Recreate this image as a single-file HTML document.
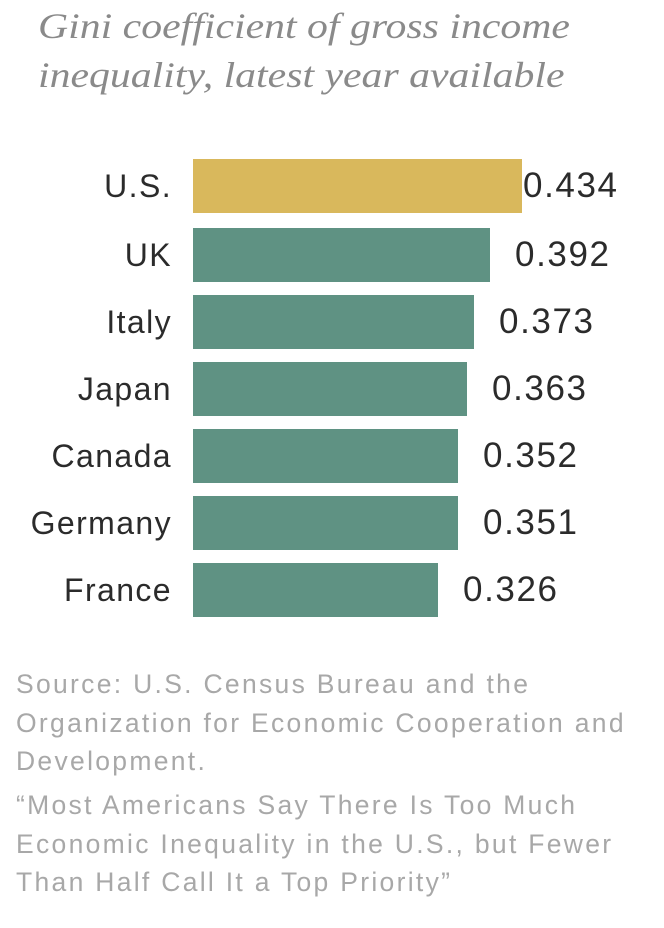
<!DOCTYPE html>
<html><head><style>
body{margin:0;width:664px;height:928px;background:#fff;position:relative;overflow:hidden;font-family:"Liberation Sans",sans-serif}
.t{position:absolute;left:38px;top:2px;font-family:"Liberation Serif",serif;font-style:italic;color:#8a8a8a;font-size:36px;line-height:49px;transform:scaleX(1.16);transform-origin:0 0;white-space:nowrap}
.b{position:absolute;left:193px;height:54px;background:#5f9283}
.l{position:absolute;right:492px;font-size:32px;color:#2b2b2b;line-height:54px;text-align:right;letter-spacing:1.4px}
.v{position:absolute;font-size:35px;color:#2b2b2b;line-height:54px;letter-spacing:1.6px}
.s{position:absolute;left:16px;font-size:26.5px;color:#a8a8a8;line-height:38.5px;letter-spacing:2.3px;white-space:nowrap}
</style></head><body>
<div class="t">Gini coefficient of gross income<br>inequality, latest year available</div>
<div class="b" style="top:159px;width:329px;background:#d9b85c"></div>
<div class="l" style="top:159px">U.S.</div><div class="v" style="top:159px;left:523px">0.434</div>
<div class="b" style="top:228px;width:297px"></div>
<div class="l" style="top:228px">UK</div><div class="v" style="top:228px;left:515px">0.392</div>
<div class="b" style="top:295px;width:281px"></div>
<div class="l" style="top:295px">Italy</div><div class="v" style="top:295px;left:499px">0.373</div>
<div class="b" style="top:362px;width:274px"></div>
<div class="l" style="top:362px">Japan</div><div class="v" style="top:362px;left:492px">0.363</div>
<div class="b" style="top:429px;width:265px"></div>
<div class="l" style="top:429px">Canada</div><div class="v" style="top:429px;left:483px">0.352</div>
<div class="b" style="top:496px;width:265px"></div>
<div class="l" style="top:496px">Germany</div><div class="v" style="top:496px;left:483px">0.351</div>
<div class="b" style="top:563px;width:245px"></div>
<div class="l" style="top:563px">France</div><div class="v" style="top:563px;left:463px">0.326</div>
<div class="s" style="top:665px">Source: U.S. Census Bureau and the<br>Organization for Economic Cooperation and<br>Development.</div>
<div class="s" style="top:786px">“Most Americans Say There Is Too Much<br>Economic Inequality in the U.S., but Fewer<br>Than Half Call It a Top Priority”</div>
</body></html>
